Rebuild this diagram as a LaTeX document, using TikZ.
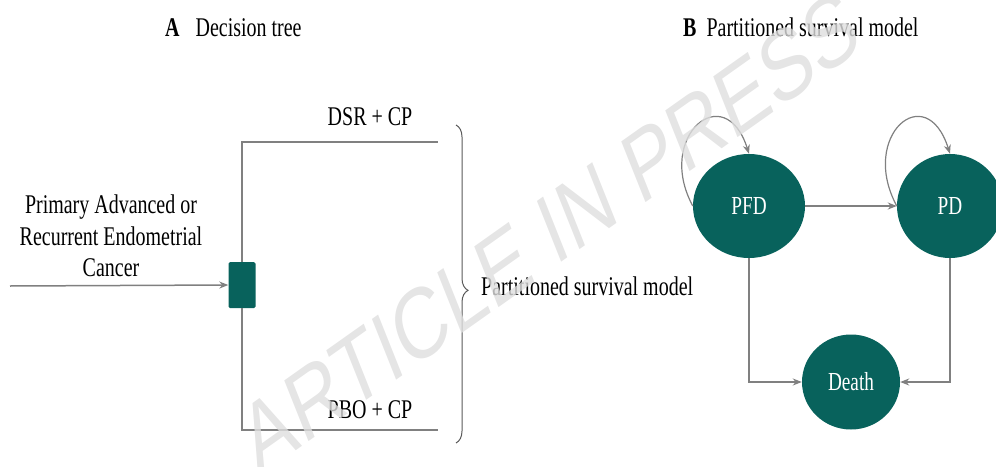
\documentclass[tikz,border=0pt]{standalone}
\usepackage{fontspec}
\setmainfont{Liberation Serif}[FakeStretch=0.74]
\newfontfamily\wmfont{Liberation Sans}
\usetikzlibrary{arrows.meta,decorations.pathreplacing,shapes.geometric}
\definecolor{tealdk}{RGB}{8,98,92}
\definecolor{lnclr}{RGB}{128,128,128}
\definecolor{wmclr}{RGB}{222,222,222}
\begin{document}
\begin{tikzpicture}[x=1pt,y=-1pt,
  txt/.style={font=\fontsize{27}{32}\selectfont, inner sep=0pt},
  conn/.style={draw=lnclr, line width=1.5pt},
  arr/.style={conn, -{Stealth[length=9pt,width=7pt]}},
  state/.style={ellipse, fill=tealdk, text=white, inner sep=0pt, font=\fontsize{26}{30}\selectfont},
  loopar/.style={arr, line width=1.2pt}
]
\useasboundingbox (0,0) rectangle (996,466);

% titles
\node[txt, anchor=base west] (tA) at (165,36) {\textbf{A}\hspace{16pt}Decision tree};
\node[txt, anchor=base west] (tB) at (683,36) {\textbf{B}\hspace{10pt}Partitioned survival model};

% panel A
\node[txt, anchor=base] (in1) at (111,213) {Primary Advanced or};
\node[txt, anchor=base] (in2) at (111,245) {Recurrent Endometrial};
\node[txt, anchor=base] (in3) at (111,276) {Cancer};
\coordinate (src) at (10,286);
\node[fill=tealdk, minimum width=27pt, minimum height=46pt, inner sep=0pt, rounded corners=1.5pt] (dec) at (242,285) {};
\draw[arr] (src) -- (dec.west);
\coordinate (topend) at (438,142);
\coordinate (botend) at (438,430);
\draw[conn] (dec.north) |- (topend);
\draw[conn] (dec.south) |- (botend);
\node[txt, anchor=base] (dsr) at (370,125) {DSR + CP};
\node[txt, anchor=base] (pbo) at (370,418) {PBO + CP};

\coordinate (bt) at (456,125);
\coordinate (bb) at (456,443);
\draw[draw=black!65, line width=1pt, decorate, decoration={brace, amplitude=12pt, aspect=0.52}] (bt) -- (bb);
\node[txt, anchor=base west] (psm) at (481,295) {Partitioned survival model};

% panel B
\node[state, minimum width=112pt, minimum height=104pt] (pfd) at (749,206) {PFD};
\node[state, minimum width=106pt, minimum height=104pt] (pd) at (950,206) {PD};
\node[state, minimum width=98pt, minimum height=95pt] (death) at (851,382) {Death};
\draw[arr] (pfd.east) -- (pd.west);
\draw[arr] (pfd.south) |- (death.west);
\draw[arr] (pd.south) |- (death.east);
\draw[loopar] (pfd.west) .. controls +(-38,-70) and +(-24,-76) .. (pfd.north);
\draw[loopar] (pd.west) .. controls +(-38,-70) and +(-24,-76) .. (pd.north);

% watermark
\begin{scope}[xscale=0.75]
\node[font=\wmfont\fontsize{100}{100}\selectfont, text=wmclr, opacity=0.8, rotate=28, transform shape] (wm) at (733,232) {ARTICLE IN PRESS};
\end{scope}
\end{tikzpicture}
\end{document}
